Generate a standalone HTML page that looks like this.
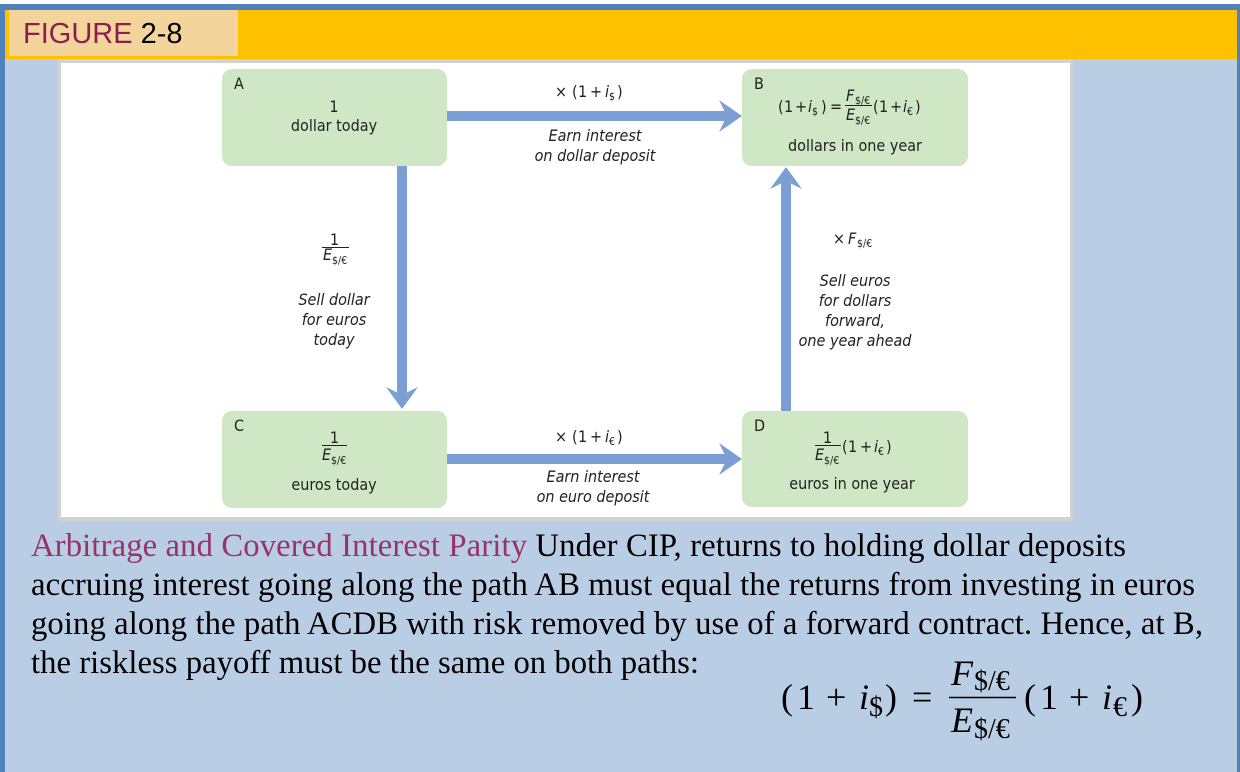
<!DOCTYPE html>
<html>
<head>
<meta charset="utf-8">
<style>
  html,body{margin:0;padding:0;background:#fff;}
  svg{display:block;}
  .d{font-family:"DejaVu Sans Condensed","DejaVu Sans","Liberation Sans",sans-serif;font-stretch:condensed;fill:#222;font-size:16px;}
  .it{font-style:italic;}
  .s{font-size:10.5px;}
  .m{font-family:"Liberation Serif","DejaVu Serif",serif;fill:#000;font-size:36px;}
  .ms{font-family:"Liberation Serif","DejaVu Serif",serif;fill:#000;font-size:28px;}
  .cap{font-family:"Liberation Serif","DejaVu Serif",serif;fill:#000;font-size:32.7px;}
</style>
</head>
<body>
<svg width="1240" height="772" viewBox="0 0 1240 772" xmlns="http://www.w3.org/2000/svg">
  <rect x="0" y="0" width="1240" height="772" fill="#B9CDE5"/>
  <rect x="0" y="0" width="1240" height="4" fill="#ffffff"/>
  <rect x="0" y="4" width="1240" height="6" fill="#4F81BD"/>
  <rect x="0" y="4" width="5" height="768" fill="#4F81BD"/>
  <rect x="1237" y="4" width="3" height="768" fill="#4F81BD"/>
  <rect x="5" y="10" width="1232" height="49" fill="#FFC000"/>
  <rect x="9" y="10" width="229" height="46" fill="#F3D49B"/>
  <text x="23" y="43" font-family="'Liberation Sans',Arial,sans-serif" font-size="29"><tspan fill="#8C1D50">FIGURE</tspan><tspan fill="#000"> 2-8</tspan></text>

  <rect x="58" y="59" width="1015" height="462" fill="#D2D2D2"/>
  <rect x="61" y="63" width="1009" height="454" fill="#FFFFFF"/>

  <rect x="222" y="69" width="225" height="97" rx="10" fill="#CFE7C4"/>
  <rect x="742" y="69" width="226" height="97" rx="10" fill="#CFE7C4"/>
  <rect x="222" y="411" width="225" height="97" rx="10" fill="#CFE7C4"/>
  <rect x="742" y="411" width="226" height="96" rx="10" fill="#CFE7C4"/>

  <g fill="#7B9ED4">
    <rect x="447" y="111" width="281" height="10"/>
    <polygon points="742,116 719,100 727,116 719,132"/>
    <rect x="447" y="454" width="281" height="10"/>
    <polygon points="742,459 719,443 727,459 719,475"/>
    <rect x="397" y="166" width="10" height="229"/>
    <polygon points="402,409 386,387 402,395 418,387"/>
    <rect x="781" y="181" width="10" height="230"/>
    <polygon points="786,167 770,189 786,181 802,189"/>
  </g>

  <!-- Box A -->
  <text class="d" x="234" y="89">A</text>
  <text class="d" x="334" y="112" text-anchor="middle">1</text>
  <text class="d" x="334" y="131" text-anchor="middle">dollar today</text>

  <!-- Box B -->
  <text class="d" x="754" y="89">B</text>
  <text class="d" y="112"><tspan x="778">(</tspan><tspan x="784">1</tspan><tspan x="795">+</tspan><tspan x="808" class="it">i</tspan></text>
  <text class="d s" x="812" y="115">$</text>
  <text class="d" y="112"><tspan x="821">)</tspan><tspan x="830">=</tspan></text>
  <text class="d it" x="846" y="101">F</text>
  <text class="d s" x="855" y="104">$/€</text>
  <line x1="845" y1="105.5" x2="872" y2="105.5" stroke="#222" stroke-width="1"/>
  <text class="d it" x="846" y="120">E</text>
  <text class="d s" x="855" y="124">$/€</text>
  <text class="d" y="112"><tspan x="873">(</tspan><tspan x="879">1</tspan><tspan x="890">+</tspan><tspan x="903" class="it">i</tspan></text>
  <text class="d s" x="907" y="115">€</text>
  <text class="d" x="915" y="112">)</text>
  <text class="d" x="855" y="151" text-anchor="middle">dollars in one year</text>

  <!-- Box C -->
  <text class="d" x="234" y="431">C</text>
  <text class="d" x="334.5" y="443" text-anchor="middle">1</text>
  <line x1="322" y1="445.5" x2="347" y2="445.5" stroke="#222" stroke-width="1"/>
  <text class="d it" x="322" y="460">E</text>
  <text class="d s" x="331" y="464">$/€</text>
  <text class="d" x="334" y="490" text-anchor="middle">euros today</text>

  <!-- Box D -->
  <text class="d" x="754" y="431">D</text>
  <text class="d" x="827.5" y="443" text-anchor="middle">1</text>
  <line x1="815" y1="445.5" x2="841" y2="445.5" stroke="#222" stroke-width="1"/>
  <text class="d it" x="815" y="460">E</text>
  <text class="d s" x="824" y="464">$/€</text>
  <text class="d" y="452"><tspan x="842">(</tspan><tspan x="848">1</tspan><tspan x="860">+</tspan><tspan x="874" class="it">i</tspan></text>
  <text class="d s" x="878" y="455">€</text>
  <text class="d" x="886" y="452">)</text>
  <text class="d" x="852" y="489" text-anchor="middle">euros in one year</text>

  <!-- AB label -->
  <text class="d" y="97"><tspan x="555">×</tspan><tspan x="572">(</tspan><tspan x="578">1</tspan><tspan x="590">+</tspan><tspan x="605" class="it">i</tspan></text>
  <text class="d s" x="609" y="100">$</text>
  <text class="d" x="617" y="97">)</text>
  <text class="d it" x="595" y="141" text-anchor="middle">Earn interest</text>
  <text class="d it" x="595" y="161" text-anchor="middle">on dollar deposit</text>

  <!-- CD label -->
  <text class="d" y="442"><tspan x="555">×</tspan><tspan x="572">(</tspan><tspan x="578">1</tspan><tspan x="590">+</tspan><tspan x="605" class="it">i</tspan></text>
  <text class="d s" x="609" y="445">€</text>
  <text class="d" x="617" y="442">)</text>
  <text class="d it" x="593" y="482" text-anchor="middle">Earn interest</text>
  <text class="d it" x="593" y="502" text-anchor="middle">on euro deposit</text>

  <!-- AC label -->
  <text class="d" x="334.5" y="245" text-anchor="middle">1</text>
  <line x1="322" y1="247.5" x2="349" y2="247.5" stroke="#222" stroke-width="1"/>
  <text class="d it" x="323" y="260">E</text>
  <text class="d s" x="332" y="264">$/€</text>
  <text class="d it" x="334" y="305" text-anchor="middle">Sell dollar</text>
  <text class="d it" x="334" y="325" text-anchor="middle">for euros</text>
  <text class="d it" x="334" y="345" text-anchor="middle">today</text>

  <!-- DB label -->
  <text class="d" x="833" y="244">×</text>
  <text class="d it" x="848" y="244">F</text>
  <text class="d s" x="857" y="247">$/€</text>
  <text class="d it" x="855" y="286" text-anchor="middle">Sell euros</text>
  <text class="d it" x="855" y="306" text-anchor="middle">for dollars</text>
  <text class="d it" x="855" y="326" text-anchor="middle">forward,</text>
  <text class="d it" x="855" y="346" text-anchor="middle">one year ahead</text>

  <!-- caption -->
  <text class="cap" x="31" y="556" textLength="1095" lengthAdjust="spacing"><tspan fill="#993366">Arbitrage and Covered Interest Parity</tspan> Under CIP, returns to holding dollar deposits</text>
  <text class="cap" x="31" y="595" textLength="1164" lengthAdjust="spacing">accruing interest going along the path AB must equal the returns from investing in euros</text>
  <text class="cap" x="31" y="634" textLength="1172" lengthAdjust="spacing">going along the path ACDB with risk removed by use of a forward contract. Hence, at B,</text>
  <text class="cap" x="31" y="673" textLength="668" lengthAdjust="spacing">the riskless payoff must be the same on both paths:</text>

  <!-- bottom formula -->
  <text class="m" x="781" y="709">(</text>
  <text class="m" x="797" y="709">1</text>
  <text class="m" x="826" y="709">+</text>
  <text class="m" x="859" y="709" font-style="italic">i</text>
  <text class="ms" x="869" y="716">$</text>
  <text class="m" x="885" y="709">)</text>
  <text class="m" x="912" y="709">=</text>
  <text class="m" x="951" y="685" font-style="italic">F</text>
  <text class="ms" x="974" y="690">$/€</text>
  <line x1="949" y1="697.5" x2="1016" y2="697.5" stroke="#000" stroke-width="1.5"/>
  <text class="m" x="951" y="732" font-style="italic">E</text>
  <text class="ms" x="974" y="738">$/€</text>
  <text class="m" x="1024" y="709">(</text>
  <text class="m" x="1040" y="709">1</text>
  <text class="m" x="1069" y="709">+</text>
  <text class="m" x="1102" y="709" font-style="italic">i</text>
  <text class="ms" x="1113" y="716">€</text>
  <text class="m" x="1131" y="709">)</text>
</svg>
</body>
</html>
